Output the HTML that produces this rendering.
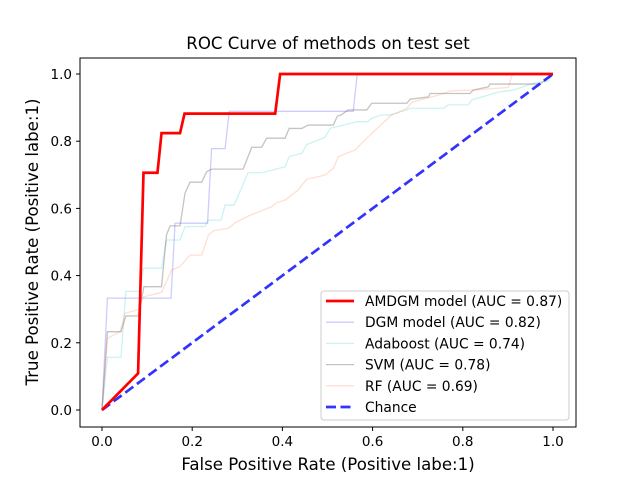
<!DOCTYPE html>
<html><head><meta charset="utf-8"><style>
body{margin:0;background:#fff}
svg{display:block;font-family:"DejaVu Sans","Liberation Sans",sans-serif}
</style></head><body>
<svg id="chart" width="640" height="480" viewBox="0 0 640 480" xmlns="http://www.w3.org/2000/svg">
<rect x="0" y="0" width="640" height="480" fill="#fff"/>
<text x="328" y="49" text-anchor="middle" font-size="16.6">ROC Curve of methods on test set</text>
<g id="plot"></g>
<rect x="80" y="58" width="496" height="369" fill="none" stroke="#000" stroke-width="1"/>
<g id="ticks"></g>
<text x="328" y="470" text-anchor="middle" font-size="16.6">False Positive Rate (Positive labe:1)</text>
<text transform="translate(38,242) rotate(-90)" text-anchor="middle" font-size="16.6">True Positive Rate (Positive labe:1)</text>
<g id="legend"></g>
</svg>
<script>
const xTicks=[0,0.2,0.4,0.6,0.8,1.0];
const yTicks=[0,0.2,0.4,0.6,0.8,1.0];
const seriesNames=["AMDGM model (AUC = 0.87)","DGM model (AUC = 0.82)","Adaboost (AUC = 0.74)","SVM (AUC = 0.78)","RF (AUC = 0.69)","Chance"];
const amdgmFpr=[0,0.080,0.092,0.123,0.132,0.173,0.183,0.384,0.395,1];
const amdgmTpr=[0,0.109,0.706,0.706,0.824,0.824,0.882,0.882,1,1];
const dgmFpr=[0,0.012,0.153,0.162,0.234,0.243,0.273,0.282,0.557,0.566,1];
const dgmTpr=[0,0.333,0.333,0.556,0.556,0.778,0.778,0.889,0.889,1,1];
const adaFpr=[0,0.012,0.042,0.053,0.084,0.092,0.132,0.143,0.173,0.184,0.228,0.236,0.264,0.273,0.293,0.324,0.354,0.406,0.415,0.443,0.454,0.494,0.506,0.55,0.565,0.589,0.598,0.620,0.638,0.650,0.676,0.683,0.757,0.768,0.812,0.820,0.882,0.912,0.956,0.990,1];
const adaTpr=[0,0.157,0.157,0.353,0.353,0.422,0.422,0.506,0.506,0.546,0.546,0.565,0.565,0.61,0.61,0.706,0.706,0.724,0.754,0.764,0.790,0.811,0.838,0.853,0.858,0.858,0.868,0.878,0.878,0.883,0.893,0.898,0.898,0.908,0.908,0.923,0.947,0.952,0.972,0.98,1];
const svmFpr=[0,0.012,0.042,0.053,0.080,0.093,0.132,0.143,0.151,0.173,0.184,0.195,0.221,0.232,0.243,0.313,0.332,0.354,0.365,0.406,0.415,0.443,0.457,0.513,0.522,0.530,0.546,0.587,0.598,0.676,0.683,0.724,0.727,0.816,0.823,0.857,0.860,0.971,1];
const svmTpr=[0,0.233,0.233,0.28,0.28,0.367,0.367,0.521,0.548,0.548,0.645,0.678,0.678,0.709,0.717,0.717,0.782,0.782,0.809,0.809,0.838,0.838,0.848,0.848,0.875,0.878,0.893,0.893,0.913,0.913,0.925,0.932,0.942,0.942,0.952,0.962,0.970,0.970,1];
const rfFpr=[0,0.012,0.04,0.051,0.080,0.092,0.132,0.155,0.173,0.195,0.221,0.236,0.247,0.280,0.295,0.324,0.376,0.387,0.406,0.435,0.454,0.494,0.513,0.524,0.561,0.590,0.598,0.642,0.653,0.676,0.687,0.705,0.740,0.775,0.823,0.901,0.910,1];
const rfTpr=[0,0.213,0.233,0.288,0.298,0.337,0.350,0.417,0.427,0.461,0.461,0.521,0.533,0.541,0.557,0.577,0.605,0.617,0.625,0.655,0.687,0.699,0.719,0.754,0.774,0.813,0.823,0.878,0.883,0.898,0.916,0.923,0.935,0.950,0.952,0.960,1,1];
const chanceFpr=[0,1];
const chanceTpr=[0,1];

const NS="http://www.w3.org/2000/svg";
function sx(v){return 102+v*451;}
function sy(v){return 410-v*336;}
const plot=document.getElementById('plot');
const ticks=document.getElementById('ticks');
function line(xs,ys,color,w,op,dash,name){
  const p=document.createElementNS(NS,'polyline');
  p.setAttribute('points',xs.map((x,i)=>sx(x)+','+sy(ys[i])).join(' '));
  p.setAttribute('fill','none');p.setAttribute('stroke',color);
  p.setAttribute('stroke-width',w);p.setAttribute('stroke-opacity',op);
  if(dash)p.setAttribute('stroke-dasharray',dash);
  
  
  plot.appendChild(p);
}
line(dgmFpr,dgmTpr,'#0000ff',1.3,0.2,null,'dgm-curve');
line(adaFpr,adaTpr,'#00bfbf',1.3,0.2,null,'adaboost-curve');
line(svmFpr,svmTpr,'#555555',1.3,0.35,null,'svm-curve');
line(rfFpr,rfTpr,'#ff7f50',1.3,0.25,null,'rf-curve');
line(chanceFpr,chanceTpr,'#0000ff',2.7,0.8,'10 4.5','chance-line');
line(amdgmFpr,amdgmTpr,'#ff0000',2.7,1,null,'amdgm-curve');

xTicks.forEach(v=>{
  const t=document.createElementNS(NS,'line');
  t.setAttribute('x1',sx(v));t.setAttribute('x2',sx(v));t.setAttribute('y1',427);t.setAttribute('y2',431);t.setAttribute('stroke','#000');
  
  
  ticks.appendChild(t);
  const l=document.createElementNS(NS,'text');
  l.setAttribute('x',sx(v));l.setAttribute('y',446);l.setAttribute('text-anchor','middle');l.setAttribute('font-size','13.5');
  l.textContent=v.toFixed(1);
  
  
  ticks.appendChild(l);
});
yTicks.forEach(v=>{
  const t=document.createElementNS(NS,'line');
  t.setAttribute('x1',76);t.setAttribute('x2',80);t.setAttribute('y1',sy(v));t.setAttribute('y2',sy(v));t.setAttribute('stroke','#000');
  
  
  ticks.appendChild(t);
  const l=document.createElementNS(NS,'text');
  l.setAttribute('x',72);l.setAttribute('y',sy(v)+5);l.setAttribute('text-anchor','end');l.setAttribute('font-size','13.5');
  l.textContent=v.toFixed(1);
  
  
  ticks.appendChild(l);
});
const lg=document.getElementById('legend');
const box=document.createElementNS(NS,'rect');
box.setAttribute('x',321);box.setAttribute('y',291);box.setAttribute('width',248);box.setAttribute('height',129);box.setAttribute('rx',3);
box.setAttribute('fill','#fff');box.setAttribute('fill-opacity','0.8');box.setAttribute('stroke','#ccc');


lg.appendChild(box);
const lcolors=['#ff0000','#0000ff','#00bfbf','#555555','#ff7f50','#0000ff'];
const lop=[1,0.2,0.2,0.35,0.25,0.8];
const lw=[2.7,1.3,1.3,1.3,1.3,2.7];
seriesNames.forEach((n,i)=>{
  const y=301+i*21.2;
  const s=document.createElementNS(NS,'line');
  s.setAttribute('x1',326);s.setAttribute('x2',354);s.setAttribute('y1',y);s.setAttribute('y2',y);
  s.setAttribute('stroke',lcolors[i]);s.setAttribute('stroke-opacity',lop[i]);s.setAttribute('stroke-width',lw[i]);
  if(i===5)s.setAttribute('stroke-dasharray','10 4.5');
  
  
  lg.appendChild(s);
  const t=document.createElementNS(NS,'text');
  t.setAttribute('x',365);t.setAttribute('y',y+5);t.setAttribute('font-size','13.8');
  t.textContent=n;
  
  
  lg.appendChild(t);
});
</script>
</body></html>
